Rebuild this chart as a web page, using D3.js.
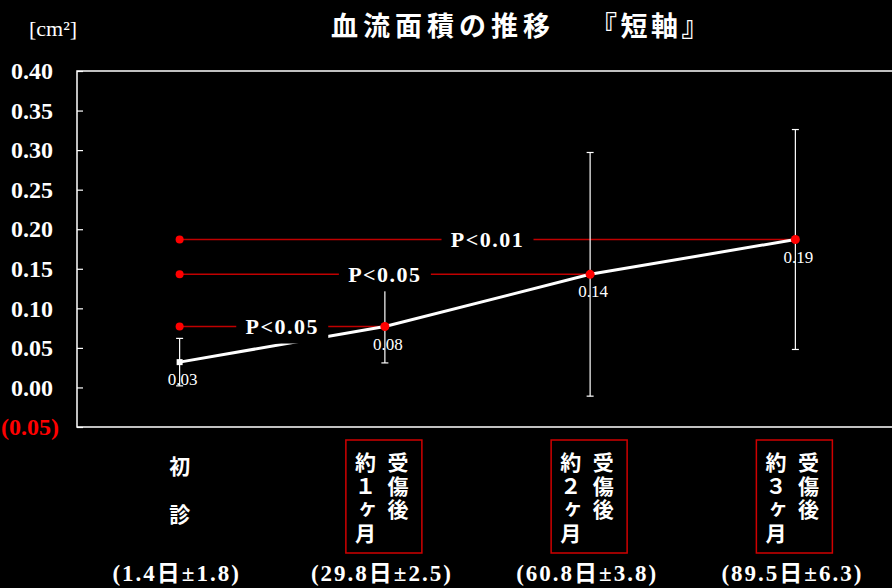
<!DOCTYPE html>
<html>
<head>
<meta charset="utf-8">
<script src="https://cdn.jsdelivr.net/npm/d3@7/dist/d3.min.js"></script>
<style>
  html, body { margin: 0; padding: 0; background: #000; }
  svg { display: block; }
</style>
</head>
<body>
<svg id="chart" width="892" height="588"></svg>
<script>
// Time points and their labels
const visitTop = ["初診", "受傷後", "受傷後", "受傷後"];
const visitSub = ["", "約１ヶ月", "約２ヶ月", "約３ヶ月"];
const visitDays = ["(1.4日±1.8)", "(29.8日±2.5)", "(60.8日±3.8)", "(89.5日±6.3)"];

// Mean blood-flow area (cm²) and standard deviation
const means = [0.032, 0.077, 0.143, 0.187];
const sds = [0.030, 0.046, 0.154, 0.139];

// Y axis ticks
const yTicks = [-0.05, 0.00, 0.05, 0.10, 0.15, 0.20, 0.25, 0.30, 0.35, 0.40];

// Significance comparisons against the first visit
const compareTo = [1, 2, 3];
const compareLabels = ["P<0.05", "P<0.05", "P<0.01"];

const titleMain = "血流面積の推移";
const titleSub = "『短軸』";
const unitLabel = "[cm²]";

const svg = d3.select("#chart");
const W = 892, H = 588;
const plot = { left: 77, top: 71, right: 898, bottom: 427 };

const serif = "'Liberation Serif', 'DejaVu Serif', 'Noto Sans CJK JP', serif";
const jp = "'Noto Sans CJK JP', 'Liberation Serif', serif";
const RED_LINE = "#c00000";
const RED_DOT = "#ff0000";

svg.append("rect").attr("width", W).attr("height", H).attr("fill", "#000");

const x = d3.scaleBand().domain(d3.range(means.length)).range([plot.left, plot.right]);
const cx = i => x(i) + x.bandwidth() / 2;
const y = d3.scaleLinear().domain([-0.05, 0.40]).range([plot.bottom, plot.top]);

// Plot frame
svg.append("path")
  .attr("d", `M${plot.right},${plot.top}H${plot.left}V${plot.bottom}H${plot.right}`)
  .attr("fill", "none").attr("stroke", "#fff").attr("stroke-width", 1.5);

// Y axis with inward ticks
const yAxis = d3.axisLeft(y).tickValues(yTicks).tickSize(-6).tickSizeOuter(0).tickPadding(24)
  .tickFormat(v => v < 0 ? `(${d3.format(".2f")(-v)})` : d3.format(".2f")(v));
const gy = svg.append("g").attr("transform", `translate(${plot.left},0)`).call(yAxis);
gy.select(".domain").remove();
gy.selectAll(".tick line").attr("stroke", "#fff").attr("stroke-width", 1.2);
gy.selectAll(".tick text")
  .attr("fill", d => d < 0 ? "#ff0000" : "#fff")
  .attr("dx", d => d < 0 ? 6 : 0)
  .style("font-family", serif).style("font-size", "24px").style("font-weight", "bold");

// Unit and title
svg.append("text").attr("x", 53).attr("y", 36).attr("text-anchor", "middle")
  .attr("fill", "#fff").style("font-family", serif).style("font-size", "22px")
  .text(unitLabel);
const titleText = svg.append("text").attr("y", 36).attr("fill", "#fff")
  .style("font-family", jp).style("font-size", "27px").style("font-weight", "bold");
titleText.append("tspan").attr("x", 331).style("letter-spacing", "5px").text(titleMain);
titleText.append("tspan").attr("x", 590).style("letter-spacing", "3.5px").text(titleSub);

// Comparison lines from the first visit
compareTo.forEach(j => {
  svg.append("line")
    .attr("x1", cx(0)).attr("x2", cx(j)).attr("y1", y(means[j])).attr("y2", y(means[j]))
    .attr("stroke", RED_LINE).attr("stroke-width", 1.5);
});

// Error bars
means.forEach((m, i) => {
  const g = svg.append("g").attr("stroke", "#fff").attr("stroke-width", 1.2);
  g.append("line").attr("x1", cx(i)).attr("x2", cx(i)).attr("y1", y(m + sds[i])).attr("y2", y(m - sds[i]));
  [m + sds[i], m - sds[i]].forEach(v => {
    g.append("line").attr("x1", cx(i) - 3.5).attr("x2", cx(i) + 3.5).attr("y1", y(v)).attr("y2", y(v));
  });
});

// Mean trend line
svg.append("path")
  .datum(means)
  .attr("d", d3.line().x((d, i) => cx(i)).y(d => y(d)))
  .attr("fill", "none").attr("stroke", "#fff").attr("stroke-width", 3);

// Significance labels on black patches
compareTo.forEach((j, k) => {
  const mx = (cx(0) + cx(j)) / 2;
  const my = y(means[j]);
  svg.append("rect").attr("x", mx - 46).attr("y", my - 17).attr("width", 92).attr("height", 34).attr("fill", "#000");
  svg.append("text").attr("x", mx).attr("y", my).attr("dy", "0.36em").attr("text-anchor", "middle")
    .attr("fill", "#fff").style("font-family", serif).style("font-size", "22px").style("font-weight", "bold")
    .style("letter-spacing", "1.5px")
    .text(compareLabels[k]);
});

// Start dots of the comparison lines
compareTo.forEach(j => {
  svg.append("circle").attr("cx", cx(0)).attr("cy", y(means[j])).attr("r", 4).attr("fill", RED_DOT);
});

// Markers
means.forEach((m, i) => {
  if (i === 0) {
    svg.append("rect").attr("x", cx(i) - 3).attr("y", y(m) - 3).attr("width", 6).attr("height", 6).attr("fill", "#fff");
  } else {
    svg.append("circle").attr("cx", cx(i)).attr("cy", y(m)).attr("r", 4.5).attr("fill", RED_DOT);
  }
});

// Value labels
means.forEach((m, i) => {
  svg.append("text").attr("x", cx(i) + 3).attr("y", y(m) + 23).attr("text-anchor", "middle")
    .attr("fill", "#fff").style("font-family", serif).style("font-size", "17px")
    .text(d3.format(".2f")(m));
});

// Category labels
visitTop.forEach((lab, i) => {
  const c = cx(i);
  if (!visitSub[i]) {
    Array.from(lab).forEach((ch, n) => {
      svg.append("text").attr("x", c).attr("y", 474 + n * 48).attr("text-anchor", "middle").attr("fill", "#fff")
        .style("font-family", jp).style("font-size", "21px").style("font-weight", "bold")
        .text(ch);
    });
  } else {
    svg.append("rect").attr("x", c - 39).attr("y", 440).attr("width", 76).attr("height", 113)
      .attr("fill", "none").attr("stroke", "#d00000").attr("stroke-width", 1.5);
    // Vertical text, read right column first
    [[lab, c + 13], [visitSub[i], c - 19.5]].forEach(([col, colX]) => {
      svg.append("text").attr("x", colX).attr("y", 452).attr("text-anchor", "start").attr("fill", "#fff")
        .style("writing-mode", "vertical-rl").style("text-orientation", "upright")
        .style("font-family", jp).style("font-size", "21px").style("font-weight", "bold")
        .style("letter-spacing", "2.5px")
        .text(col);
    });
  }
  svg.append("text").attr("x", c - 3).attr("y", 581).attr("text-anchor", "middle")
    .attr("fill", "#fff").style("font-family", serif).style("font-size", "23px").style("font-weight", "bold")
    .style("letter-spacing", "2px")
    .text(visitDays[i]);
});
</script>
</body>
</html>
